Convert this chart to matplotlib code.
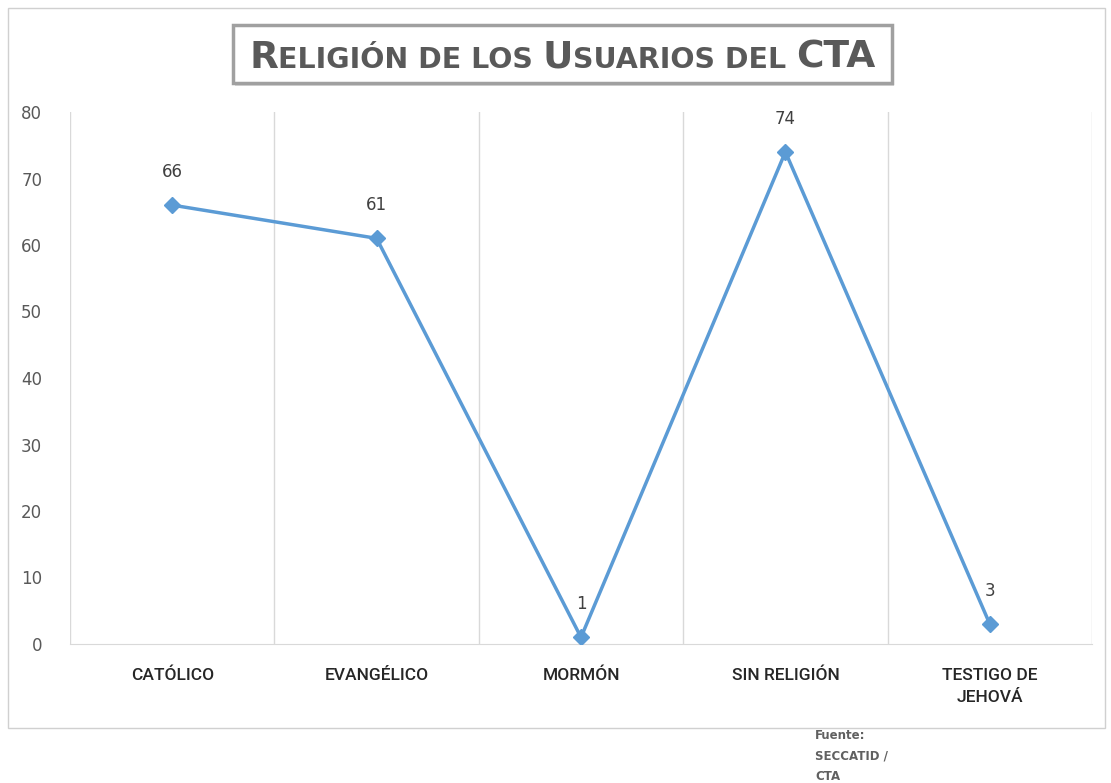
import matplotlib
matplotlib.use("Agg")
import matplotlib.pyplot as plt
from matplotlib.patches import Rectangle

categories = ["CATÓLICO", "EVANGÉLICO", "MORMÓN", "SIN RELIGIÓN", "TESTIGO DE\nJEHOVÁ"]
values = [66, 61, 1, 74, 3]
yticks = [0, 10, 20, 30, 40, 50, 60, 70, 80]
title_parts = [("R", 27), ("ELIGIÓN DE LOS ", 20.5), ("U", 27), ("SUARIOS DEL ", 20.5), ("CTA", 27)]
source_text = "Fuente:\nSECCATID /\nCTA"

W, H = 1111, 783
fig = plt.figure(figsize=(W / 100, H / 100), dpi=100)
fig.patch.set_facecolor("white")

# outer chart border
fig.patches.append(Rectangle((8 / W, 1 - 728 / H), (1105 - 8) / W, (728 - 8) / H,
                             transform=fig.transFigure, fill=False,
                             edgecolor="#D0D0D0", linewidth=1.0))

ax = fig.add_axes([70 / W, 1 - 644 / H, (1092 - 70) / W, (644 - 112) / H])
x = list(range(len(categories)))
ax.plot(x, values, color="#5B9BD5", linewidth=2.5, marker="D", markersize=8,
        markerfacecolor="#5B9BD5", markeredgecolor="#5B9BD5", zorder=3)
for xi, v in zip(x, values):
    ax.annotate(str(v), (xi, v), xytext=(0, 24), textcoords="offset points",
                ha="center", va="center", fontsize=12, color="#404040")

ax.set_xlim(-0.5, len(categories) - 0.5)
ax.set_ylim(0, 80)
ax.set_yticks(yticks)
ax.set_xticks(x)
ax.set_xticklabels(categories, fontsize=12.5, color="#262626", linespacing=1.65,
                   fontweight="medium", family="Roboto")
ax.tick_params(axis="y", labelsize=12, labelcolor="#595959", length=0, pad=20)
ax.tick_params(axis="x", length=0, pad=17)
for b in [i + 0.5 for i in range(-1, len(categories))]:
    ax.axvline(b, color="#D9D9D9", linewidth=1.0, zorder=1)
for s in ["top", "right", "left"]:
    ax.spines[s].set_visible(False)
ax.spines["bottom"].set_color("#D9D9D9")

# title box
bx0, by0, bx1, by1 = 233, 25, 892, 83
fig.patches.append(Rectangle((bx0 / W + 0.002, 1 - by1 / H - 0.004), (bx1 - bx0) / W, (by1 - by0) / H,
                             transform=fig.transFigure, facecolor="#D9D9D9",
                             edgecolor="none", zorder=0))
fig.patches.append(Rectangle((bx0 / W, 1 - by1 / H), (bx1 - bx0) / W, (by1 - by0) / H,
                             transform=fig.transFigure, facecolor="white",
                             edgecolor="#A0A0A0", linewidth=2.5, zorder=1))

renderer = fig.canvas.get_renderer()
texts = []
for txt, fs in title_parts:
    texts.append(fig.text(0, 1 - 68 / H, txt, fontsize=fs, fontweight="bold",
                          color="#595959", ha="left", va="baseline", family="DejaVu Sans"))
widths = [t.get_window_extent(renderer=renderer).width for t in texts]
total = sum(widths)
cx = (bx0 + bx1) / 2
cur = cx - total / 2
for t, w in zip(texts, widths):
    t.set_x(cur / W)
    cur += w

fig.text(815 / W, 1 - 729 / H, source_text, fontsize=8.5, fontweight="bold",
         color="#606060", ha="left", va="top", linespacing=1.75)

fig.savefig("out.png", dpi=100)
